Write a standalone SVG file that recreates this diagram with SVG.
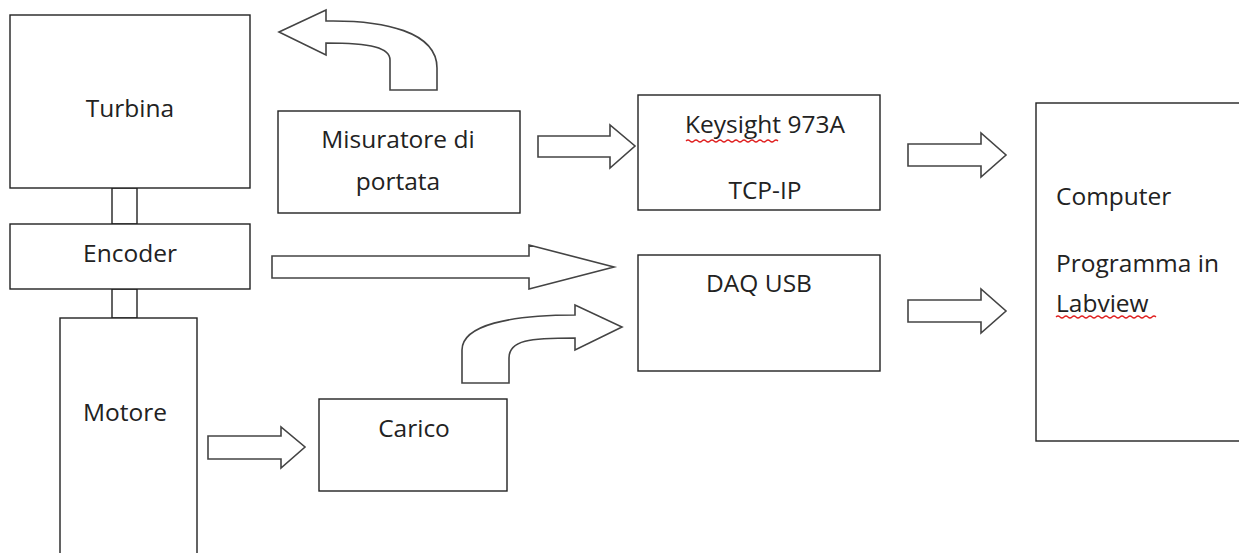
<svg xmlns="http://www.w3.org/2000/svg" width="1239" height="553" viewBox="0 0 1239 553">
<style>
.box{fill:#fff;stroke:#222;stroke-width:1.4}
.arr{fill:#fff;stroke:#444;stroke-width:1.6;stroke-linejoin:miter}
.t{font-family:"Open Sans","Liberation Sans",sans-serif;font-size:24.5px;fill:#222}
.c{text-anchor:middle}
.sq{fill:none;stroke:#e02020;stroke-width:1.2}
</style>
<rect width="1239" height="553" fill="#fff"/>
<g id="connectors">
<path class="arr" d="M279,32 L326,10 L326,21 C385,20 437,32 437,68 L437,90 L390,90 L390,60 C390,48 372,43 326,43 L326,55 Z"/>
<path class="arr" d="M538,136 L610,136 L610,125 L635,146 L610,168 L610,157 L538,157 Z"/>
<path class="arr" d="M908,144 L981,144 L981,133 L1006,155 L981,177 L981,166 L908,166 Z"/>
<path class="arr" d="M908,300 L981,300 L981,289 L1006,311 L981,333 L981,322 L908,322 Z"/>
<path class="arr" d="M272,256 L529,256 L529,245 L614,267 L529,289 L529,278 L272,278 Z"/>
<path class="arr" d="M462,383 L462,350 C462,325 510,315 575,315 L575,305 L622,327 L575,350 L575,338 C530,338 509,340 509,358 L509,383 Z"/>
<path class="arr" d="M208,436 L281,436 L281,427 L305,447 L281,468 L281,459 L208,459 Z"/>
</g>
<g id="shafts">
<rect class="box" x="112" y="188" width="25" height="36"/>
<rect class="box" x="112" y="289" width="25" height="29"/>
</g>
<g id="turbina"><rect class="box" x="10" y="15" width="240" height="173"/><text class="t c" x="130" y="117">Turbina</text></g>
<g id="encoder"><rect class="box" x="10" y="224" width="240" height="65"/><text class="t c" x="130" y="262">Encoder</text></g>
<g id="motore"><rect class="box" x="60" y="318" width="137" height="240"/><text class="t c" x="125" y="421">Motore</text></g>
<g id="misuratore"><rect class="box" x="278" y="111" width="242" height="102"/><text class="t c" x="398" y="148">Misuratore di</text><text class="t c" x="398" y="190">portata</text></g>
<g id="keysight"><rect class="box" x="638" y="95" width="242" height="115"/><text class="t c" x="765" y="133">Keysight 973A</text><text class="t c" x="765" y="199">TCP-IP</text><path class="sq" d="M686,141 q2,-2 4,0 t4,0 t4,0 t4,0 t4,0 t4,0 t4,0 t4,0 t4,0 t4,0 t4,0 t4,0 t4,0 t4,0 t4,0 t4,0 t4,0 t4,0 t4,0 t4,0 t4,0 t4,0 t4,0"/></g>
<g id="daq"><rect class="box" x="638" y="255" width="242" height="116"/><text class="t c" x="759" y="292">DAQ USB</text></g>
<g id="carico"><rect class="box" x="319" y="399" width="188" height="92"/><text class="t c" x="414" y="437">Carico</text></g>
<g id="computer"><rect class="box" x="1036" y="103" width="210" height="338"/><text class="t" x="1056" y="205">Computer</text><text class="t" x="1056" y="272">Programma in</text><text class="t" x="1056" y="312">Labview</text><path class="sq" d="M1056,317 q2,-2 4,0 t4,0 t4,0 t4,0 t4,0 t4,0 t4,0 t4,0 t4,0 t4,0 t4,0 t4,0 t4,0 t4,0 t4,0 t4,0 t4,0 t4,0 t4,0 t4,0 t4,0 t4,0 t4,0 t4,0 t4,0"/></g>
</svg>
